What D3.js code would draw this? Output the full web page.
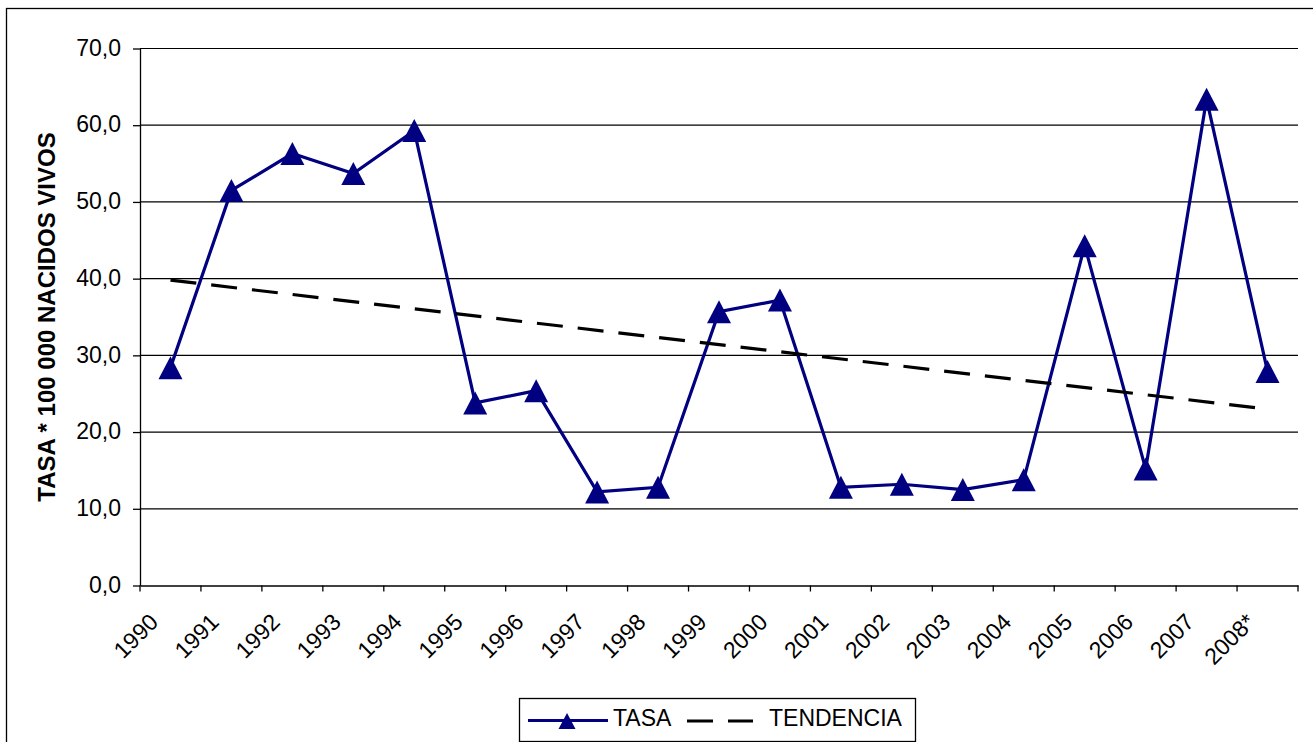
<!DOCTYPE html>
<html><head><meta charset="utf-8">
<script src="https://cdn.jsdelivr.net/npm/d3@7"></script>
<style>
body{margin:0;background:#fff}
svg{display:block}
text{font-family:"Liberation Sans",Arial,sans-serif;fill:#000}
</style>
</head><body>
<svg id="c" width="1313" height="742"></svg>
<script>
const categories = ["1990","1991","1992","1993","1994","1995","1996","1997","1998","1999","2000","2001","2002","2003","2004","2005","2006","2007","2008*"];
const tasa = [28.4,51.5,56.3,53.7,59.3,23.8,25.4,12.2,12.8,35.7,37.2,12.8,13.2,12.5,13.8,44.3,15.2,63.4,27.9];
// trend line values read at first and last category
const trendEnds = [39.8, 23.0];
const yTicks = [0,10,20,30,40,50,60,70];
const seriesNames = ["TASA","TENDENCIA"];
const yTitle = "TASA * 100 000 NACIDOS VIVOS";

const NAVY = "#000080";
const svg = d3.select("#c");
const L = 140, R = 1298, T = 48.5, B = 585.5;

// outer chart border
svg.append("rect").attr("x",6.5).attr("y",8.5).attr("width",1330).attr("height",760)
  .attr("fill","#fff").attr("stroke","#000").attr("stroke-width",1.3);

const x = d3.scaleBand().domain(categories).range([L,R]).padding(0);
const cx = c => x(c) + x.bandwidth()/2;
const y = d3.scaleLinear().domain([0,70]).range([B,T]);

// gridlines
svg.append("g").selectAll("line").data(yTicks.filter(d=>d>0)).join("line")
  .attr("x1",L).attr("x2",R).attr("y1",d=>y(d)).attr("y2",d=>y(d))
  .attr("stroke","#000").attr("stroke-width",1.2);

// y axis
const yAxis = svg.append("g").attr("transform",`translate(${L},0)`)
  .call(d3.axisLeft(y).tickValues(yTicks).tickSize(7).tickSizeOuter(0).tickPadding(12)
    .tickFormat(d => d3.format(".1f")(d).replace(".",",")));
yAxis.selectAll("path,line").attr("stroke","#000").attr("stroke-width",1.3);
yAxis.selectAll("text").attr("font-size",23).attr("dy","0.29em")
  .style("font-family",'"Liberation Sans",Arial,sans-serif').attr("fill","#000");

// x axis
const xAxis = svg.append("g").attr("transform",`translate(0,${B})`)
  .call(d3.axisBottom(x).tickSize(0).tickSizeOuter(0).tickFormat(""));
xAxis.selectAll("path").attr("stroke","#000").attr("stroke-width",1.3);
const bounds = categories.map(c=>x(c)).concat([R]);
svg.append("g").selectAll("line").data(bounds).join("line")
  .attr("x1",d=>d).attr("x2",d=>d).attr("y1",B).attr("y2",B+6)
  .attr("stroke","#000").attr("stroke-width",1.3);
svg.append("g").selectAll("text").data(categories).join("text")
  .attr("transform",c=>`translate(${cx(c)-11},${B+38}) rotate(-45)`)
  .attr("text-anchor","end").attr("font-size",23).text(c=>c);

// y title
svg.append("text").attr("transform",`translate(55,${(T+B)/2}) rotate(-90)`)
  .attr("text-anchor","middle").attr("font-size",24).attr("font-weight","bold").text(yTitle);

// series line
const line = d3.line().x((d,i)=>cx(categories[i])).y(d=>y(d));
svg.append("path").datum(tasa).attr("d",line).attr("fill","none")
  .attr("stroke",NAVY).attr("stroke-width",3.2).attr("stroke-linejoin","miter");

// trend line
const trendPts = [[categories[0],trendEnds[0]],[categories[categories.length-1],trendEnds[1]]];
svg.append("path").datum(trendPts)
  .attr("d",d3.line().x(d=>cx(d[0])).y(d=>y(d[1])))
  .attr("fill","none").attr("stroke","#000").attr("stroke-width",3.2).attr("stroke-dasharray","26,15");

// markers
const tri = (w,h) => `M0,${-h/2}L${w/2},${h/2}L${-w/2},${h/2}Z`;
svg.append("g").selectAll("path").data(tasa).join("path")
  .attr("transform",(d,i)=>`translate(${cx(categories[i])},${y(d)})`)
  .attr("d",tri(24,23)).attr("fill",NAVY);

// legend
const lg = svg.append("g");
lg.append("rect").attr("x",519.5).attr("y",698.5).attr("width",396).attr("height",43)
  .attr("fill","#fff").attr("stroke","#000").attr("stroke-width",1.3);
lg.append("line").attr("x1",528).attr("x2",608).attr("y1",720.5).attr("y2",720.5)
  .attr("stroke",NAVY).attr("stroke-width",3.2);
lg.append("path").attr("transform","translate(567,721)").attr("d",tri(17,16)).attr("fill",NAVY);
lg.append("text").attr("x",613).attr("y",726).attr("font-size",23).text(seriesNames[0]);
lg.append("line").attr("x1",687).attr("x2",753).attr("y1",721).attr("y2",721)
  .attr("stroke","#000").attr("stroke-width",3.2).attr("stroke-dasharray","26,15");
lg.append("text").attr("x",769).attr("y",726).attr("font-size",23).text(seriesNames[1]);
</script>
</body></html>
